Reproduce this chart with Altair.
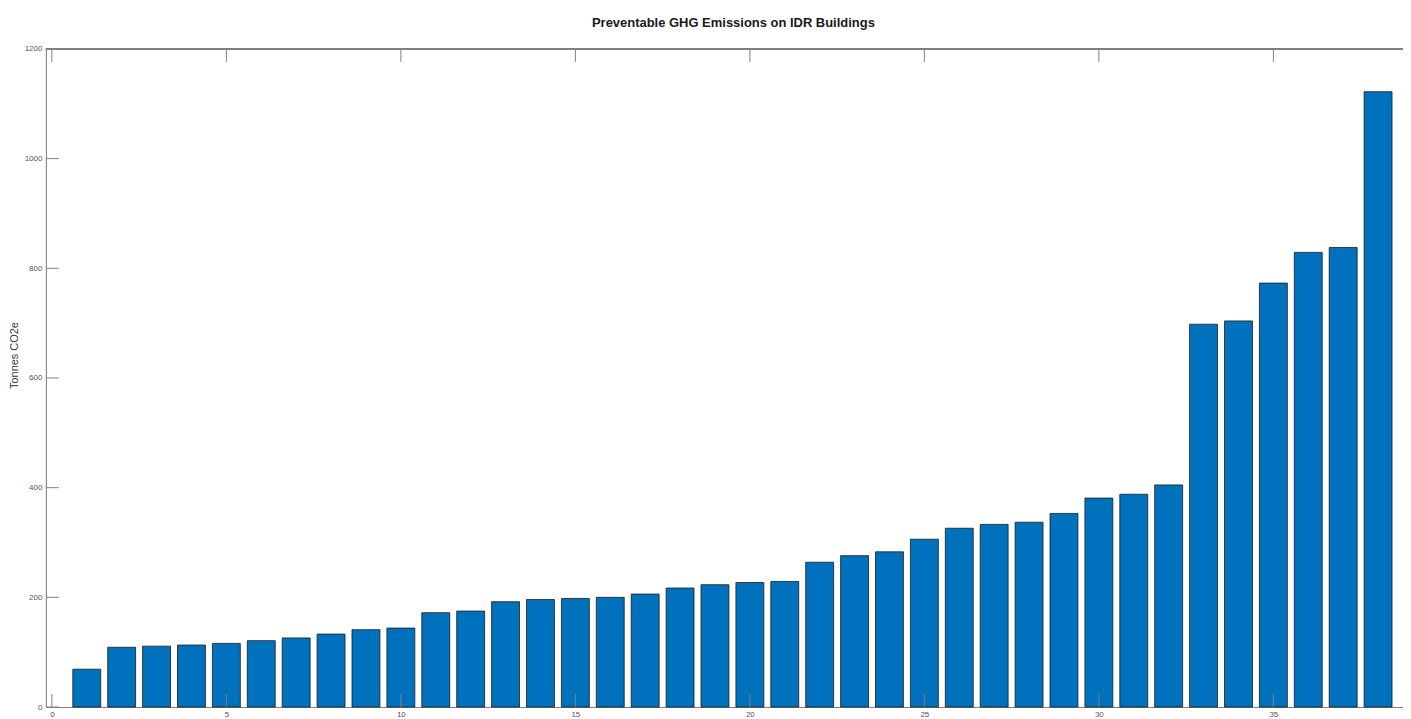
import altair as alt
import pandas as pd

buildings = list(range(1, 39))
emissions = [69, 109, 111, 113, 116, 121, 126, 133, 141, 144,
             172, 175, 192, 196, 198, 200, 206, 217, 223, 227,
             229, 264, 276, 283, 306, 326, 333, 337, 353, 381,
             388, 405, 698, 704, 773, 829, 838, 1122]
x_ticks = [0, 5, 10, 15, 20, 25, 30, 35]
y_ticks = [0, 200, 400, 600, 800, 1000, 1200]

W, H = 1361, 660
XDOM = [-0.171, 38.714]
YDOM = [0, 1200]
AXC = "#808080"
LBC = "#555555"

df = pd.DataFrame({"b": buildings, "v": emissions})
xt = pd.DataFrame({"t": x_ticks})
yt = pd.DataFrame({"t": y_ticks})

xs = alt.Scale(domain=XDOM, nice=False, zero=False)
ys = alt.Scale(domain=YDOM, nice=False)

bars = alt.Chart(df).transform_calculate(
    x0="datum.b - 0.4", x1="datum.b + 0.4"
).mark_bar(color="#0072BD", stroke="#1a1a1a", strokeWidth=0.8).encode(
    x=alt.X("x0:Q", scale=xs, axis=alt.Axis(
        values=x_ticks, title=None, ticks=False, grid=False, format="d",
        domainColor=AXC, domainWidth=1, labelColor=LBC, labelFontSize=8,
        labelFont="Liberation Sans", labelPadding=4)),
    x2="x1:Q",
    y=alt.Y("v:Q", scale=ys, axis=alt.Axis(
        values=y_ticks, title="Tonnes CO2e", ticks=False, grid=False, format="d",
        domainColor=AXC, domainWidth=1, labelColor=LBC, labelFontSize=8,
        labelFont="Liberation Sans", labelPadding=4,
        titleFont="Liberation Sans", titleFontSize=11, titleFontWeight="normal",
        titleColor="#333333", titleAngle=270, titleX=-31, titleY=307,
        titleAlign="center", titleBaseline="middle")),
    y2=alt.datum(0),
)

xbot = alt.Chart(xt).mark_rule(color=AXC, strokeWidth=1).encode(
    x=alt.X("t:Q", scale=xs), y=alt.value(H), y2=alt.value(H - 13))
xtop = alt.Chart(xt).mark_rule(color=AXC, strokeWidth=1).encode(
    x=alt.X("t:Q", scale=xs), y=alt.value(0), y2=alt.value(13))
yleft = alt.Chart(yt).mark_rule(color=AXC, strokeWidth=1).encode(
    y=alt.Y("t:Q", scale=ys), x=alt.value(0), x2=alt.value(13))
topline = alt.Chart(xt).mark_rule(color=AXC, strokeWidth=1).encode(
    x=alt.value(0), x2=alt.value(W), y=alt.value(0))

chart = alt.layer(bars, xbot, xtop, yleft, topline).properties(
    width=W, height=H,
    title=alt.TitleParams("Preventable GHG Emissions on IDR Buildings",
                          font="Liberation Sans", fontSize=13, fontWeight="bold",
                          color="#1a1a1a", anchor="middle", dx=9, offset=15),
    autosize=alt.AutoSizeParams(type="none"),
    padding={"left": 38, "top": 40, "right": 0, "bottom": 20},
).configure_view(stroke=None).configure(background="white")

chart.save("out.html", embed_options={"renderer": "svg", "actions": False})
